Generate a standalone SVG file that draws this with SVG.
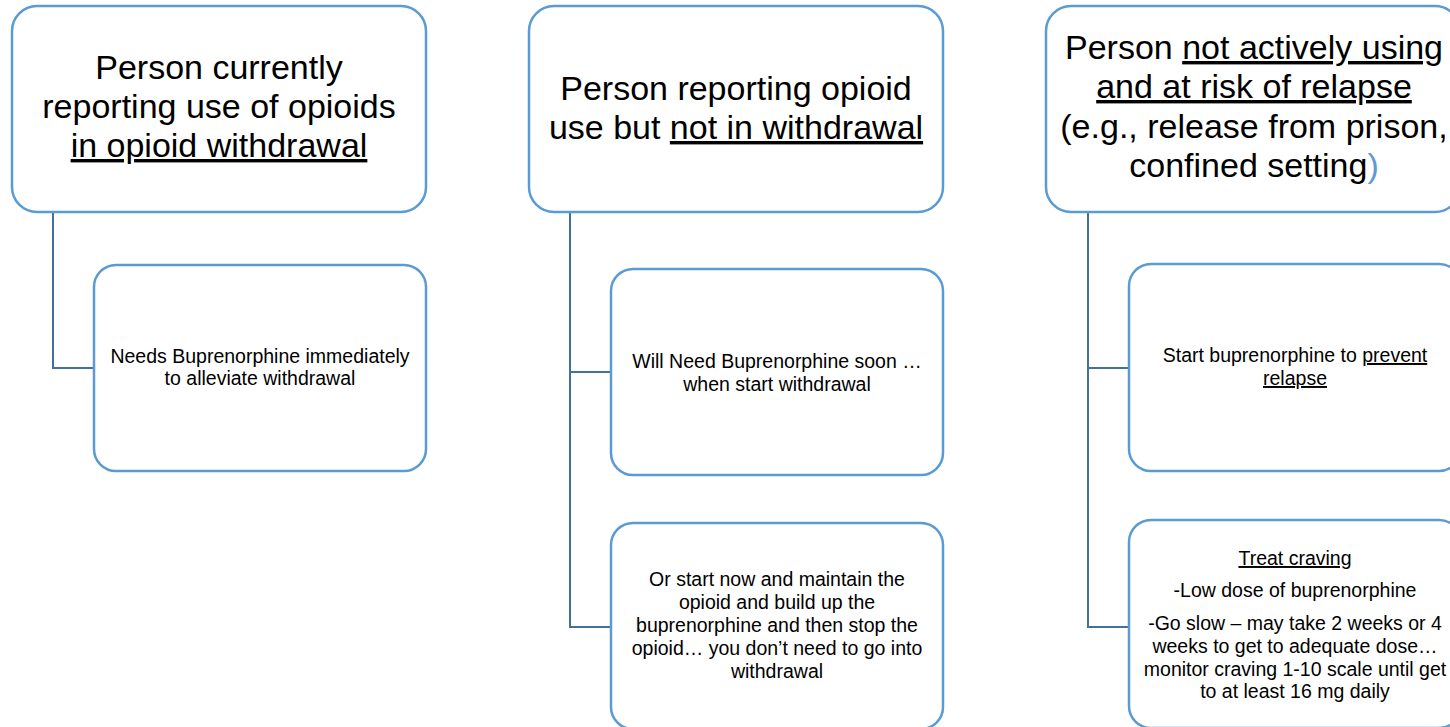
<svg xmlns="http://www.w3.org/2000/svg" width="1450" height="727" viewBox="0 0 1450 727">
<style>
.box{fill:#fff;stroke:#5B9BD5;stroke-width:2.5}
.con{fill:none;stroke:#41719C;stroke-width:2}
.t{font-family:"Liberation Sans",Arial,sans-serif;fill:#000;text-anchor:middle}
.big{font-size:34px}
.sm{font-size:19.5px}
.u{text-decoration:underline}
</style>
<rect width="1450" height="727" fill="#fff"/>
<g id="connectors">
<path class="con" d="M53 213V368H94"/>
<path class="con" d="M570 213V627H611M570 372H611"/>
<path class="con" d="M1088 213V627H1129M1088 368H1129"/>
</g>
<g id="n1">
<rect class="box" x="12" y="6" width="414" height="206" rx="25"/>
<text class="t big"><tspan x="219" y="79">Person currently</tspan><tspan x="219" y="118">reporting use of opioids</tspan><tspan x="219" y="157" class="u">in opioid withdrawal</tspan></text>
</g>
<g id="n1a">
<rect class="box" x="94" y="265" width="332" height="206" rx="22"/>
<text class="t sm"><tspan x="260" y="363">Needs Buprenorphine immediately</tspan><tspan x="260" y="385">to alleviate withdrawal</tspan></text>
</g>
<g id="n2">
<rect class="box" x="529" y="6" width="414" height="206" rx="25"/>
<text class="t big"><tspan x="736" y="100">Person reporting opioid</tspan><tspan x="736" y="139">use but <tspan class="u">not in withdrawal</tspan></tspan></text>
</g>
<g id="n2a">
<rect class="box" x="611" y="269" width="332" height="206" rx="22"/>
<text class="t sm"><tspan x="777" y="368">Will Need Buprenorphine soon …</tspan><tspan x="777" y="391">when start withdrawal</tspan></text>
</g>
<g id="n2b">
<rect class="box" x="611" y="523" width="332" height="206" rx="22"/>
<text class="t sm"><tspan x="777" y="586">Or start now and maintain the</tspan><tspan x="777" y="609">opioid and build up the</tspan><tspan x="777" y="632">buprenorphine and then stop the</tspan><tspan x="777" y="655">opioid… you don’t need to go into</tspan><tspan x="777" y="678">withdrawal</tspan></text>
</g>
<g id="n3">
<rect class="box" x="1046" y="6" width="414" height="206" rx="25"/>
<text class="t big"><tspan x="1254" y="59">Person <tspan class="u">not actively using</tspan></tspan><tspan x="1254" y="98" class="u">and at risk of relapse</tspan><tspan x="1254" y="138">(e.g., release from prison,</tspan><tspan x="1254" y="177">confined setting<tspan fill="#5B9BD5">)</tspan></tspan></text>
</g>
<g id="n3a">
<rect class="box" x="1129" y="264" width="332" height="207" rx="22"/>
<text class="t sm"><tspan x="1295" y="362">Start buprenorphine to <tspan class="u">prevent</tspan></tspan><tspan x="1295" y="385" class="u">relapse</tspan></text>
</g>
<g id="n3b">
<rect class="box" x="1129" y="520" width="332" height="208" rx="22"/>
<text class="t sm"><tspan x="1295" y="565" class="u">Treat craving</tspan><tspan x="1295" y="597">-Low dose of buprenorphine</tspan><tspan x="1295" y="630">-Go slow – may take 2 weeks or 4</tspan><tspan x="1295" y="653">weeks to get to adequate dose…</tspan><tspan x="1295" y="676">monitor craving 1-10 scale until get</tspan><tspan x="1295" y="698">to at least 16 mg daily</tspan></text>
</g>
</svg>
